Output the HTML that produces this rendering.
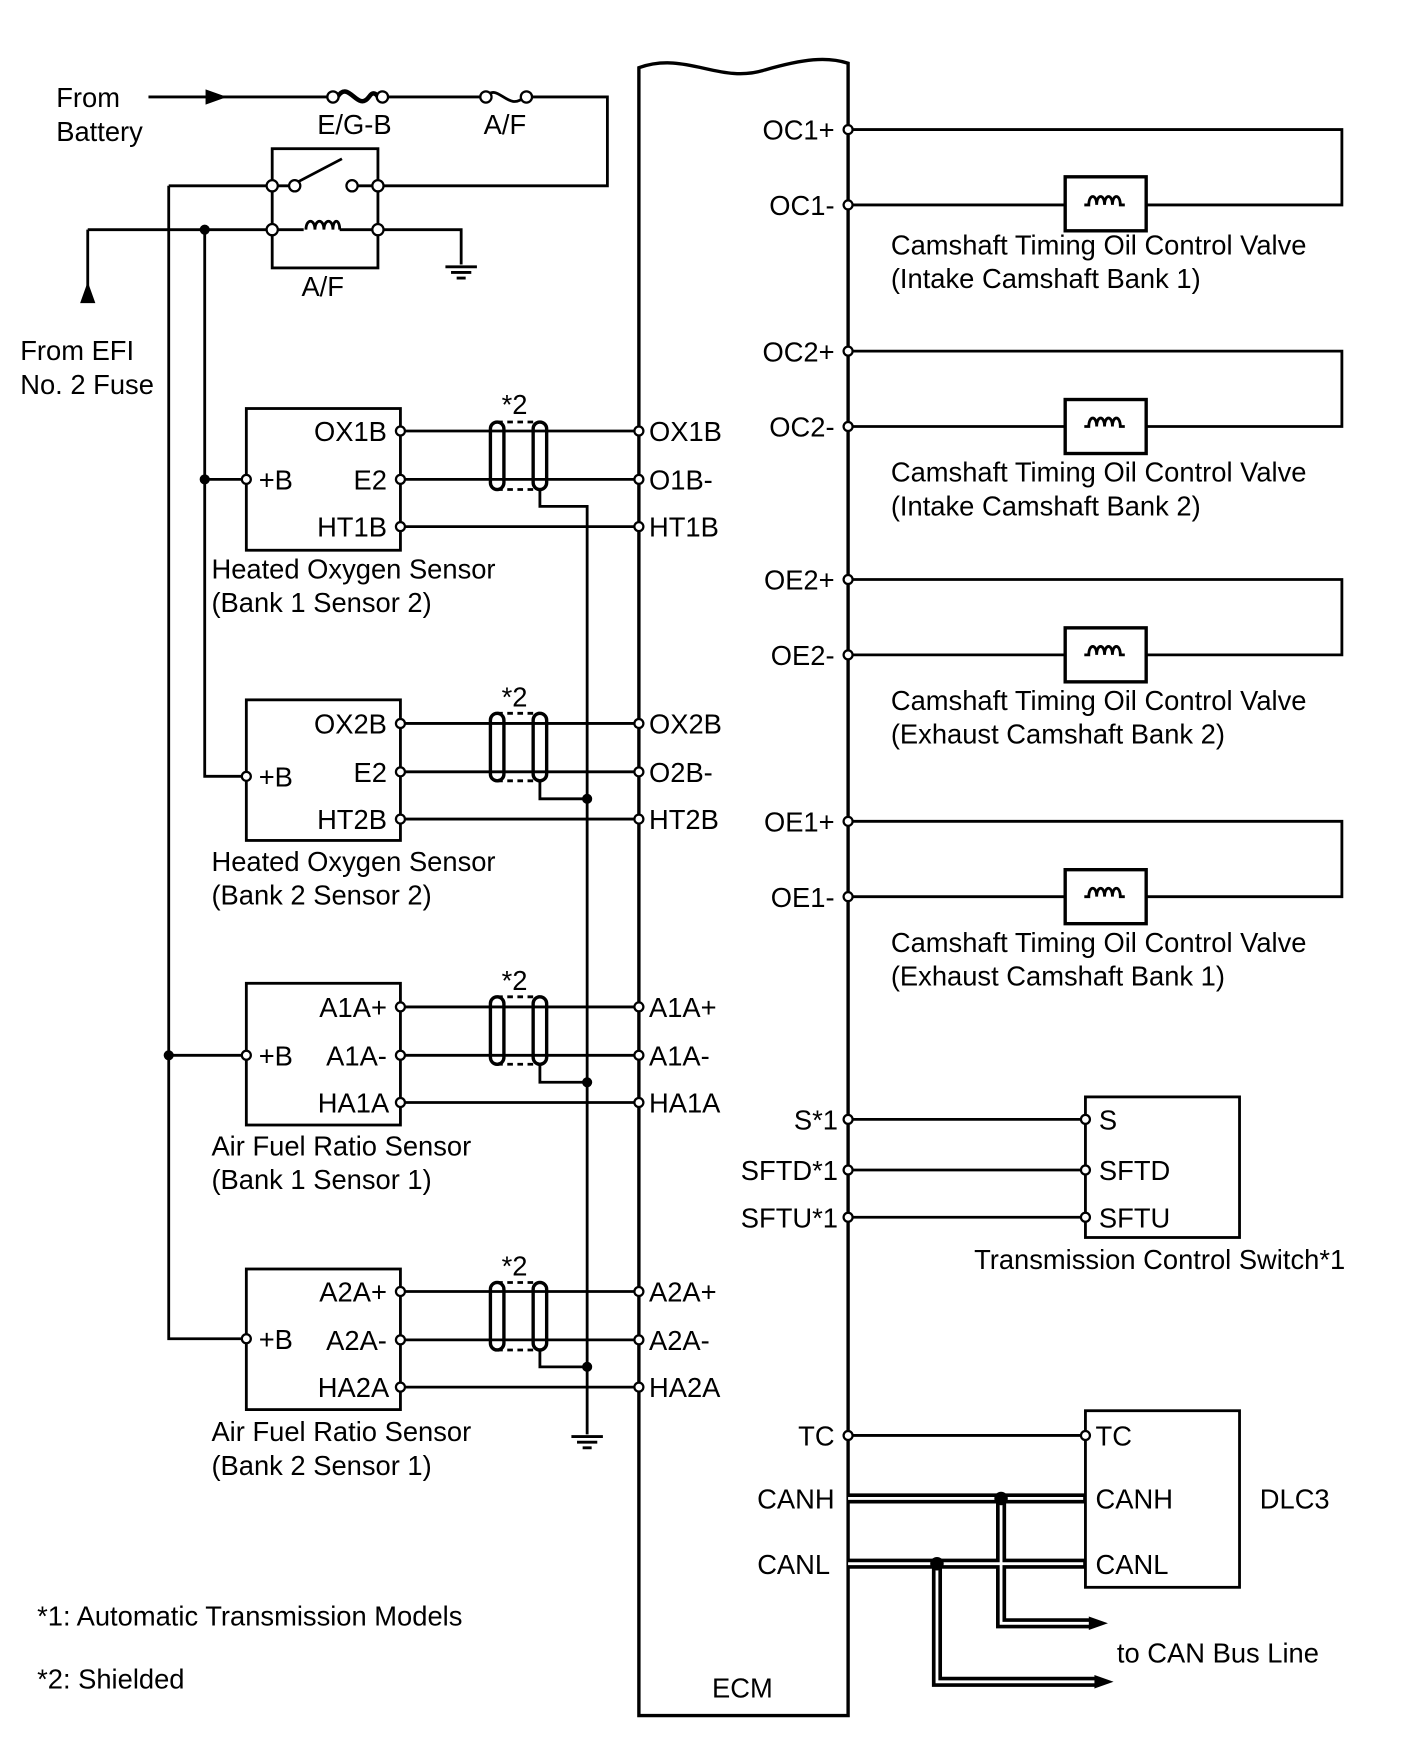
<!DOCTYPE html>
<html><head><meta charset="utf-8"><style>html,body{margin:0;padding:0;background:#fff}svg{display:block}text{font-family:"Liberation Sans",sans-serif;font-size:24.3px;fill:#000}</style></head><body>
<svg width="1424" height="1763" viewBox="0 0 1266 1567" xmlns="http://www.w3.org/2000/svg">
<g stroke="#000" stroke-width="2.5" fill="none">
<path d="M568,1525 V60 C610,45 640,75 680,62 C715,52 735,50 754,56 V1525 Z" stroke-width="3"/>
<line x1="132" y1="86" x2="190" y2="86"/>
<polygon points="198,86 184,81 184,91" fill="#000"/>
<path d="M190,86 H296 M340,86 H428 M470,86 H540 V165 H336"/>
<path d="M300,86 C310,70 318,100 328,86 C332,80 335,84 336,86" stroke-width="4"/>
<path d="M432,86 C442,72 452,100 466,86"/>
<rect x="242" y="132" width="94" height="106"/>
<path d="M150,165 H242 M242,165 H258 M262,163 L304,141 M318,165 H336"/>
<path d="M78,204 H242 M242,204 H270 M302,204 H336 M336,204 H410 V235"/>
<path d="M272,204 c0,-10 8,-10 8,0 c0,-10 8,-10 8,0 c0,-10 8,-10 8,0 c0,-10 6,-10 6,0"/>
<path d="M396,237 H424 M401,242 H419 M406,247 H414"/>
<line x1="78" y1="204" x2="78" y2="268"/>
<polygon points="78,254 73,268 83,268" fill="#000"/>
<path d="M150,165 V1190 H219 M182,204 V690 H219 M182,426 H219 M150,938 H219"/>
<rect x="219" y="363" width="137" height="126"/>
<rect x="219" y="622" width="137" height="125"/>
<rect x="219" y="874" width="137" height="126"/>
<rect x="219" y="1128" width="137" height="125"/>
<path d="M356,383 H568 M356,426 H568 M356,468 H568"/>
<path d="M356,643 H568 M356,686 H568 M356,728 H568"/>
<path d="M356,895 H568 M356,938 H568 M356,980 H568"/>
<path d="M356,1148 H568 M356,1191 H568 M356,1233 H568"/>
<g id="sh">
<rect x="436" y="375" width="12" height="60" rx="6" stroke-width="3"/>
<rect x="474" y="375" width="12" height="60" rx="6" stroke-width="3"/>
<path d="M442,375 H480 M442,435 H480" stroke-dasharray="5,4"/>
</g>
<use href="#sh" y="259"/><use href="#sh" y="511"/><use href="#sh" y="765"/>
<path d="M480,435 V450 H522 V1275 M480,694 V710 H522 M480,946 V962 H522 M480,1200 V1215 H522"/>
<path d="M508,1277 H536 M513,1282 H531 M518,1287 H526"/>
<path d="M754,115 H1193 V182 H754 M754,312 H1193 V379 H754 M754,515 H1193 V582 H754 M754,730 H1193 V797 H754"/>
<g fill="#fff" stroke-width="3">
<rect x="947" y="157" width="72" height="48"/><rect x="947" y="355" width="72" height="48"/>
<rect x="947" y="558" width="72" height="48"/><rect x="947" y="773" width="72" height="48"/>
</g>
<g id="coil"><path d="M964,182 H968 c0,-10 7,-10 7,0 c0,-10 7,-10 7,0 c0,-10 7,-10 7,0 c0,-10 7,-10 7,0 H1000"/></g>
<use href="#coil" y="197"/><use href="#coil" y="400"/><use href="#coil" y="615"/>
<rect x="965" y="975" width="137" height="125"/>
<path d="M754,995 H965 M754,1040 H965 M754,1082 H965"/>
<rect x="965" y="1254" width="137" height="157"/>
<path d="M754,1276 H965"/>
<g stroke-width="9"><path d="M754,1332 H965 M754,1390 H965 M890,1332 V1443 H970 M833,1390 V1495 H975"/></g>
<g stroke="#fff" stroke-width="2.5"><path d="M754,1332 H963 M754,1390 H963 M890,1332 V1443 H972 M833,1390 V1495 H977"/></g>
<polygon points="985,1443 968,1437 968,1449" fill="#000" stroke="none"/>
<polygon points="990,1495 973,1489 973,1501" fill="#000" stroke="none"/>
</g>
<g fill="#000"><circle cx="182" cy="204" r="4.5"/><circle cx="182" cy="426" r="4.5"/><circle cx="150" cy="938" r="4.5"/>
<circle cx="522" cy="710" r="4.5"/><circle cx="522" cy="962" r="4.5"/><circle cx="522" cy="1215" r="4.5"/>
<circle cx="890" cy="1332" r="6"/><circle cx="833" cy="1390" r="6"/></g>
<g fill="#fff" stroke="#000" stroke-width="2">
<circle cx="296" cy="86" r="5"/><circle cx="340" cy="86" r="5"/><circle cx="432" cy="86" r="5"/><circle cx="468" cy="86" r="5"/>
<circle cx="242" cy="165" r="5"/><circle cx="262" cy="165" r="5"/><circle cx="313" cy="165" r="5"/><circle cx="336" cy="165" r="5"/>
<circle cx="242" cy="204" r="5"/><circle cx="336" cy="204" r="5"/>
<circle cx="219" cy="426" r="4"/><circle cx="219" cy="690" r="4"/><circle cx="219" cy="938" r="4"/><circle cx="219" cy="1190" r="4"/>
<circle cx="356" cy="383" r="4"/><circle cx="356" cy="426" r="4"/><circle cx="356" cy="468" r="4"/>
<circle cx="356" cy="643" r="4"/><circle cx="356" cy="686" r="4"/><circle cx="356" cy="728" r="4"/>
<circle cx="356" cy="895" r="4"/><circle cx="356" cy="938" r="4"/><circle cx="356" cy="980" r="4"/>
<circle cx="356" cy="1148" r="4"/><circle cx="356" cy="1191" r="4"/><circle cx="356" cy="1233" r="4"/>
<circle cx="568" cy="383" r="4"/><circle cx="568" cy="426" r="4"/><circle cx="568" cy="468" r="4"/>
<circle cx="568" cy="643" r="4"/><circle cx="568" cy="686" r="4"/><circle cx="568" cy="728" r="4"/>
<circle cx="568" cy="895" r="4"/><circle cx="568" cy="938" r="4"/><circle cx="568" cy="980" r="4"/>
<circle cx="568" cy="1148" r="4"/><circle cx="568" cy="1191" r="4"/><circle cx="568" cy="1233" r="4"/>
<circle cx="754" cy="115" r="4"/><circle cx="754" cy="182" r="4"/><circle cx="754" cy="312" r="4"/><circle cx="754" cy="379" r="4"/>
<circle cx="754" cy="515" r="4"/><circle cx="754" cy="582" r="4"/><circle cx="754" cy="730" r="4"/><circle cx="754" cy="797" r="4"/>
<circle cx="754" cy="995" r="4"/><circle cx="754" cy="1040" r="4"/><circle cx="754" cy="1082" r="4"/><circle cx="754" cy="1276" r="4"/>
<circle cx="965" cy="995" r="4"/><circle cx="965" cy="1040" r="4"/><circle cx="965" cy="1082" r="4"/><circle cx="965" cy="1276" r="4"/>
</g>
<text x="50" y="95">From</text><text x="50" y="125">Battery</text>
<text x="282" y="119">E/G-B</text><text x="430" y="119">A/F</text><text x="268" y="263">A/F</text>
<text x="18" y="320">From EFI</text><text x="18" y="350">No. 2 Fuse</text>
<g text-anchor="end"><text x="344" y="392">OX1B</text><text x="344" y="435">E2</text><text x="344" y="477">HT1B</text>
<text x="344" y="652">OX2B</text><text x="344" y="695">E2</text><text x="344" y="737">HT2B</text>
<text x="344" y="904">A1A+</text><text x="344" y="947">A1A-</text><text x="346" y="989">HA1A</text>
<text x="344" y="1157">A2A+</text><text x="344" y="1200">A2A-</text><text x="346" y="1242">HA2A</text>
<text x="742" y="124">OC1+</text><text x="742" y="191">OC1-</text><text x="742" y="321">OC2+</text><text x="742" y="388">OC2-</text>
<text x="742" y="524">OE2+</text><text x="742" y="591">OE2-</text><text x="742" y="739">OE1+</text><text x="742" y="806">OE1-</text>
<text x="745" y="1004">S*1</text><text x="745" y="1049">SFTD*1</text><text x="745" y="1091">SFTU*1</text>
<text x="742" y="1285">TC</text><text x="742" y="1341">CANH</text><text x="738" y="1399">CANL</text></g>
<g><text x="230" y="435">+B</text><text x="230" y="699">+B</text><text x="230" y="947">+B</text><text x="230" y="1199">+B</text>
<text x="446" y="368">*2</text><text x="446" y="628">*2</text><text x="446" y="880">*2</text><text x="446" y="1134">*2</text>
<text x="577" y="392">OX1B</text><text x="577" y="435">O1B-</text><text x="577" y="477">HT1B</text>
<text x="577" y="652">OX2B</text><text x="577" y="695">O2B-</text><text x="577" y="737">HT2B</text>
<text x="577" y="904">A1A+</text><text x="577" y="947">A1A-</text><text x="577" y="989">HA1A</text>
<text x="577" y="1157">A2A+</text><text x="577" y="1200">A2A-</text><text x="577" y="1242">HA2A</text>
<text x="188" y="514">Heated Oxygen Sensor</text><text x="188" y="544">(Bank 1 Sensor 2)</text>
<text x="188" y="774">Heated Oxygen Sensor</text><text x="188" y="804">(Bank 2 Sensor 2)</text>
<text x="188" y="1027">Air Fuel Ratio Sensor</text><text x="188" y="1057">(Bank 1 Sensor 1)</text>
<text x="188" y="1281">Air Fuel Ratio Sensor</text><text x="188" y="1311">(Bank 2 Sensor 1)</text>
<text x="792" y="226">Camshaft Timing Oil Control Valve</text><text x="792" y="256">(Intake Camshaft Bank 1)</text>
<text x="792" y="428">Camshaft Timing Oil Control Valve</text><text x="792" y="458">(Intake Camshaft Bank 2)</text>
<text x="792" y="631">Camshaft Timing Oil Control Valve</text><text x="792" y="661">(Exhaust Camshaft Bank 2)</text>
<text x="792" y="846">Camshaft Timing Oil Control Valve</text><text x="792" y="876">(Exhaust Camshaft Bank 1)</text>
<text x="977" y="1004">S</text><text x="977" y="1049">SFTD</text><text x="977" y="1091">SFTU</text>
<text x="866" y="1128">Transmission Control Switch*1</text>
<text x="974" y="1285">TC</text><text x="974" y="1341">CANH</text><text x="974" y="1399">CANL</text><text x="1120" y="1341">DLC3</text>
<text x="993" y="1478">to CAN Bus Line</text><text x="633" y="1509">ECM</text>
<text x="33" y="1445">*1: Automatic Transmission Models</text><text x="33" y="1501">*2: Shielded</text></g>
</svg>
</body></html>
